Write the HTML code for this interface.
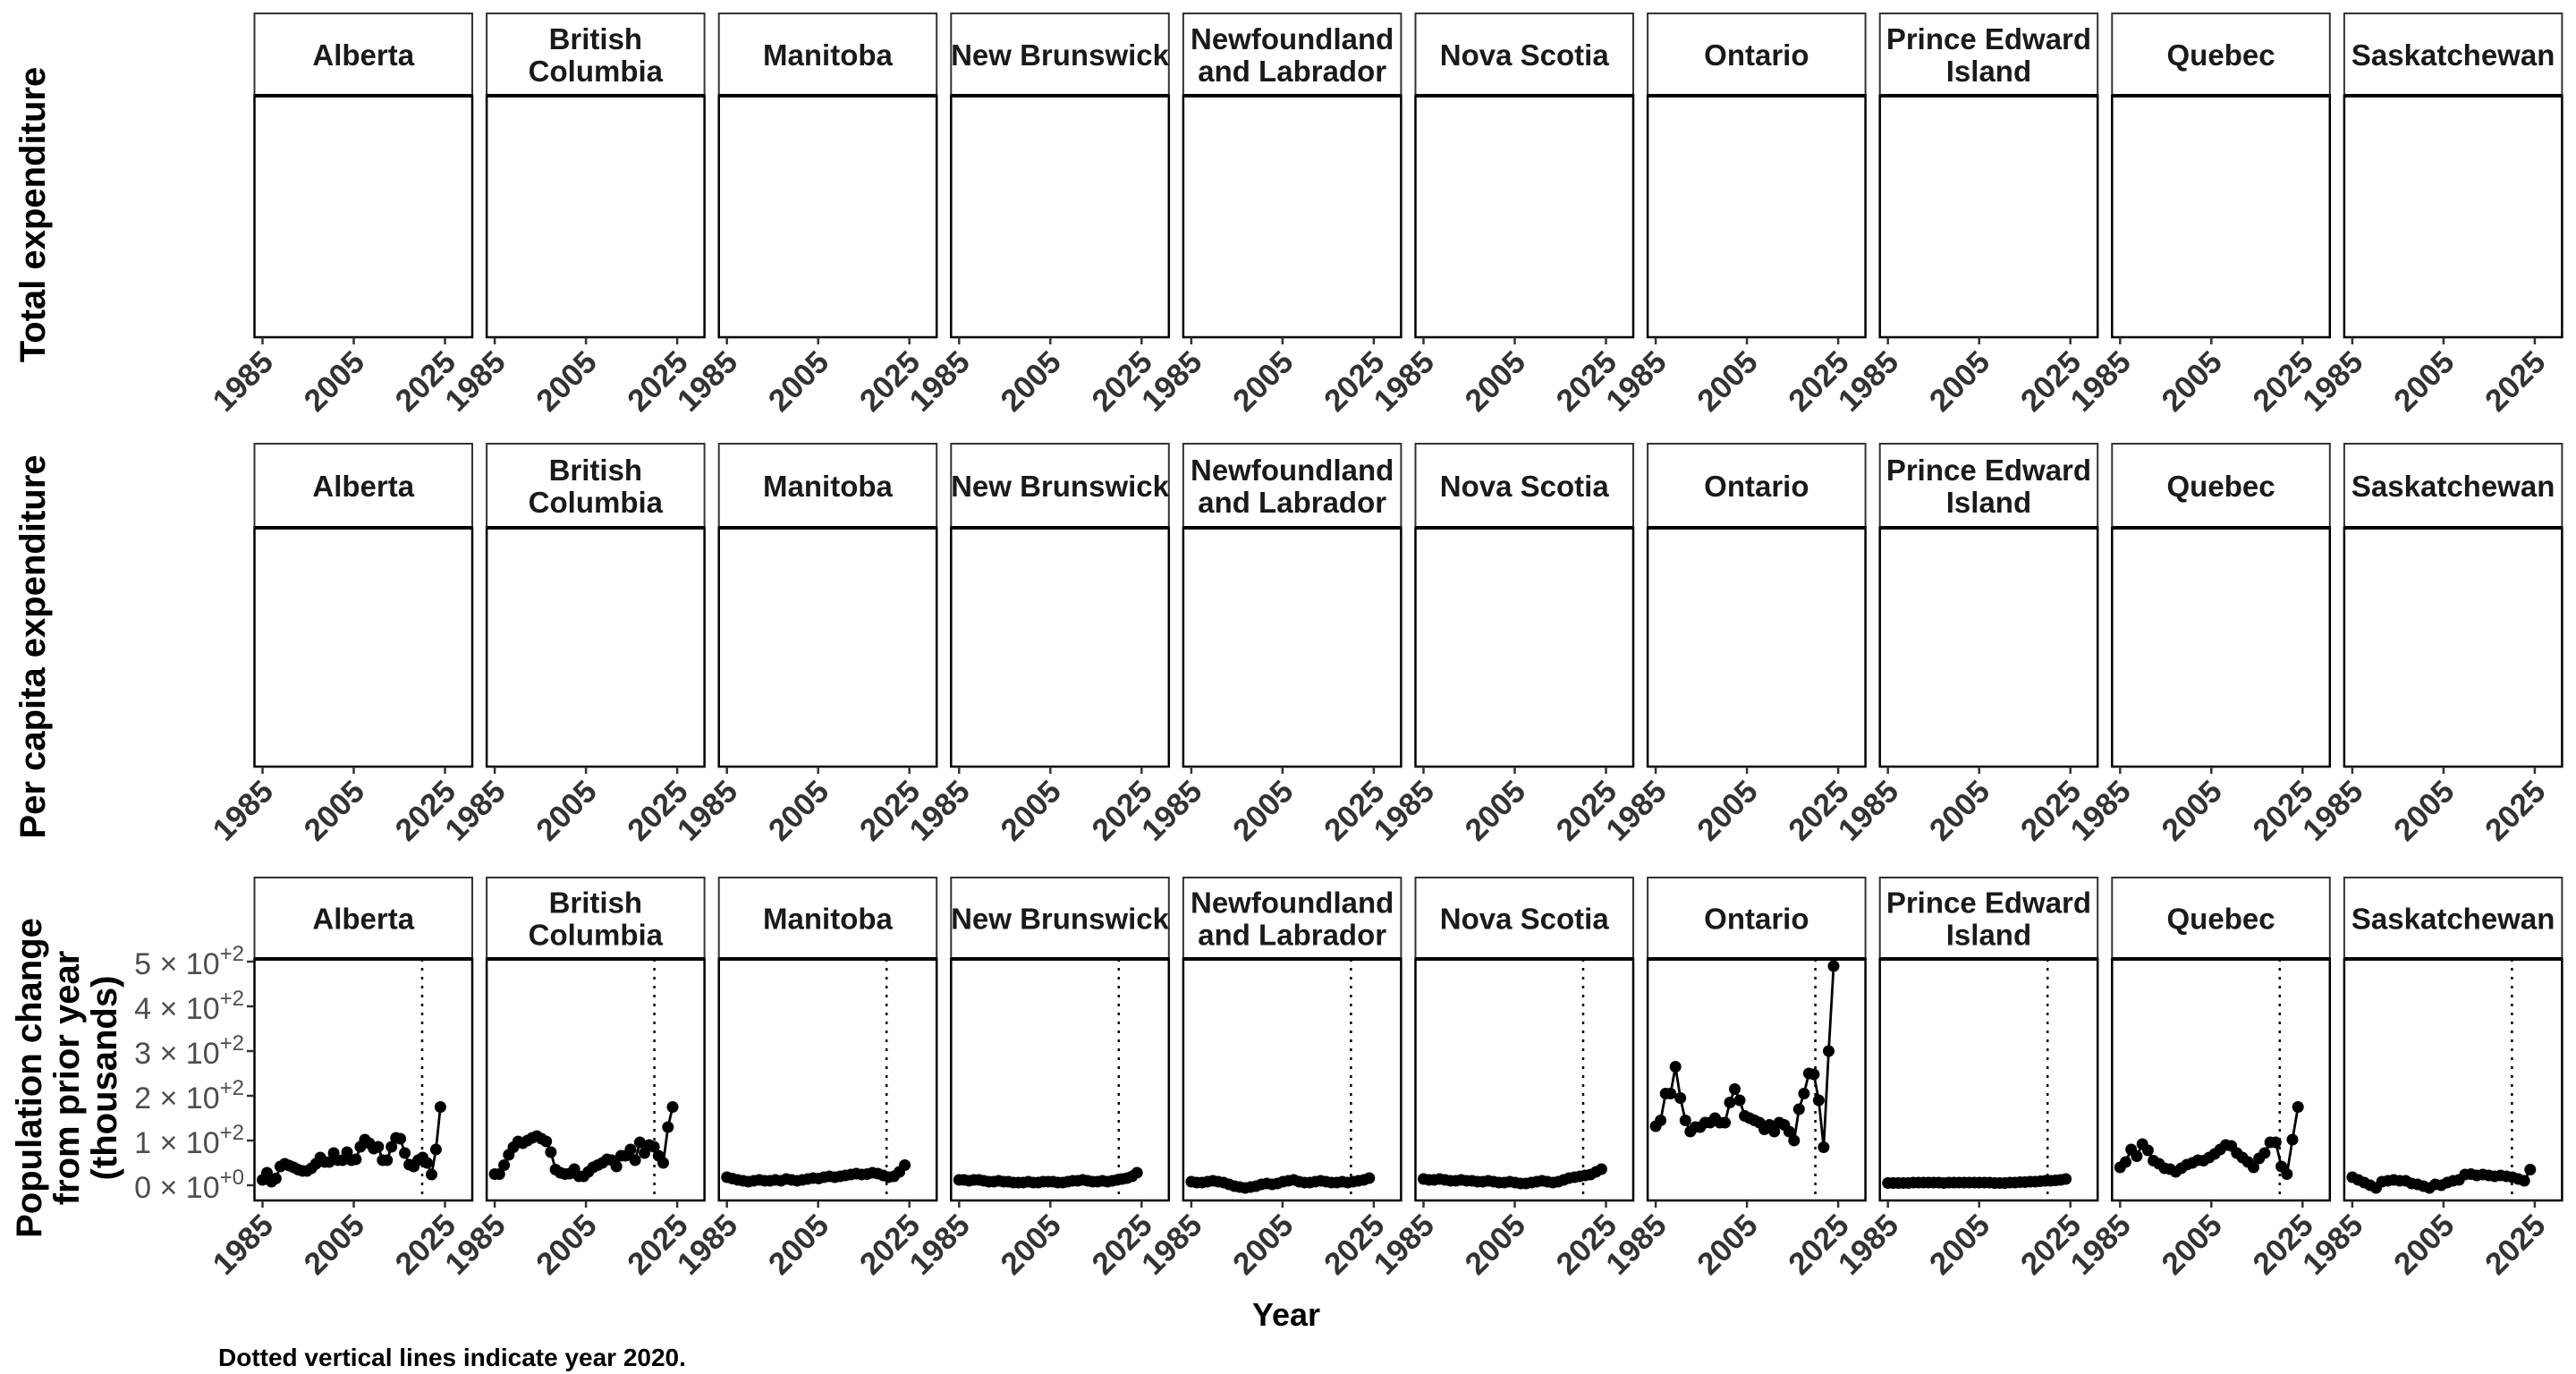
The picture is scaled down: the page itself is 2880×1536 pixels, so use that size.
<!DOCTYPE html>
<html><head><meta charset="utf-8"><style>
html,body{margin:0;padding:0;background:#fff;}
svg{display:block;font-family:"Liberation Sans",Arial,sans-serif;}
</style></head><body>
<svg id="s" width="2880" height="1536" viewBox="0 0 2880 1536" xmlns="http://www.w3.org/2000/svg">
<text x="1438" y="1482" font-size="36" font-weight="bold" text-anchor="middle" fill="#000">Year</text>
<text x="244" y="1527" font-size="28" font-weight="bold" fill="#000">Dotted vertical lines indicate year 2020.</text>
<text transform="translate(50,240) rotate(-90)" font-size="40" font-weight="bold" text-anchor="middle" fill="#000">Total expenditure</text>
<text transform="translate(50,723) rotate(-90)" font-size="40" font-weight="bold" text-anchor="middle" fill="#000">Per capita expenditure</text>
<text transform="translate(46,1205) rotate(-90)" font-size="40" font-weight="bold" text-anchor="middle" fill="#000">Population change</text>
<text transform="translate(88,1205) rotate(-90)" font-size="40" font-weight="bold" text-anchor="middle" fill="#000">from prior year</text>
<text transform="translate(130,1205) rotate(-90)" font-size="40" font-weight="bold" text-anchor="middle" fill="#000">(thousands)</text>
<g id="g"></g>
</svg>
<script>
var names=[["Alberta"],["British","Columbia"],["Manitoba"],["New Brunswick"],["Newfoundland","and Labrador"],["Nova Scotia"],["Ontario"],["Prince Edward","Island"],["Quebec"],["Saskatchewan"]];
var data=[
[12,28,8,15,42,48,44,40,35,32,32,38,48,62,52,52,72,56,56,74,56,58,86,102,94,82,86,56,56,86,106,104,72,46,42,56,62,50,24,80,175],
[25,25,45,68,85,98,94,100,106,110,104,98,74,35,28,25,26,36,20,20,30,40,45,50,58,56,42,66,66,80,56,96,72,90,86,66,50,130,175],
[18,15,12,10,8,10,12,10,10,12,10,14,12,10,12,14,16,15,18,20,18,20,22,24,26,24,25,28,26,22,18,20,30,45],
[12,12,10,12,12,10,8,8,10,8,8,6,6,6,8,6,6,8,8,8,6,6,8,10,10,12,10,8,8,10,8,10,12,14,16,20,28],
[8,6,6,8,10,8,6,2,-2,-4,-6,-4,-2,2,4,2,4,8,10,12,8,6,6,8,10,8,6,6,8,6,8,10,12,16],
[14,12,12,14,12,10,10,12,10,10,8,8,10,8,6,6,8,6,4,4,6,8,10,8,6,8,12,16,18,20,22,24,30,36],
[132,145,205,205,265,195,145,120,130,130,140,140,150,140,140,185,215,190,155,150,145,140,125,135,120,140,135,120,100,170,205,250,248,190,85,300,490],
[5,5,5,5,5,6,6,6,6,6,6,5,6,6,6,6,6,6,6,6,6,5,5,5,6,6,7,7,8,8,9,10,10,11,12,14],
[40,52,80,65,92,78,55,48,38,36,30,38,46,50,56,55,62,70,80,90,88,72,62,52,40,60,72,96,96,42,25,102,175],
[18,12,6,0,-6,8,10,12,10,10,4,2,-2,-6,2,0,6,10,12,24,25,22,24,22,20,22,20,18,14,10,35]];
var step=259.6,L0=284.5,W=243.5;
var rows=[[15,107,377],[496,590,857],[981,1072,1342]];
var h="";
function X(l,yr){return l+9+(yr-1985)*5.1;}
for(var r=0;r<3;r++){
 var st=rows[r][0],sb=rows[r][1],pb=rows[r][2];
 for(var i=0;i<10;i++){
  var l=L0+i*step;
  h+='<rect x="'+l+'" y="'+st+'" width="'+W+'" height="'+(sb-st)+'" fill="#fff" stroke="#333" stroke-width="2"/>';
  var n=names[i],cx=l+W/2,cy=(st+sb)/2;
  if(n.length==1)h+='<text x="'+cx+'" y="'+(cy+12)+'" font-size="33" font-weight="bold" text-anchor="middle" fill="#1a1a1a">'+n[0]+'</text>';
  else{h+='<text x="'+cx+'" y="'+(cy-6)+'" font-size="33" font-weight="bold" text-anchor="middle" fill="#1a1a1a">'+n[0]+'</text>';
   h+='<text x="'+cx+'" y="'+(cy+30)+'" font-size="33" font-weight="bold" text-anchor="middle" fill="#1a1a1a">'+n[1]+'</text>';}
  h+='<rect x="'+l+'" y="'+sb+'" width="'+W+'" height="'+(pb-sb)+'" fill="none" stroke="#000" stroke-width="2.5"/>';
  h+='<line x1="'+l+'" x2="'+(l+W)+'" y1="'+sb+'" y2="'+sb+'" stroke="#000" stroke-width="4"/>';
  [1985,2005,2025].forEach(function(y){var x=X(l,y);
   h+='<line x1="'+x+'" x2="'+x+'" y1="'+pb+'" y2="'+(pb+8)+'" stroke="#333" stroke-width="2.5"/>';
   h+='<text transform="translate('+(x+14)+','+(pb+30)+') rotate(-45)" font-size="35" font-weight="bold" text-anchor="end" fill="#333">'+y+'</text>';});
  if(r==2){
   var xd=X(l,2020);
   h+='<line x1="'+xd+'" x2="'+xd+'" y1="'+sb+'" y2="'+pb+'" stroke="#000" stroke-width="2.5" stroke-dasharray="3,7"/>';
   var d=data[i],pts=[];
   for(var k=0;k<d.length;k++){var yr=1985+k*39/(d.length-1);pts.push([X(l,yr).toFixed(1),(1325-d[k]*0.5).toFixed(1)]);}
   h+='<polyline fill="none" stroke="#000" stroke-width="2.8" points="'+pts.map(function(p){return p.join(",")}).join(" ")+'"/>';
   pts.forEach(function(p){h+='<circle cx="'+p[0]+'" cy="'+p[1]+'" r="6.5" fill="#000"/>';});
  }
 }
}
for(var k=0;k<=5;k++){var y=1325-k*50;
 h+='<line x1="276" x2="284" y1="'+y+'" y2="'+y+'" stroke="#333" stroke-width="2.5"/>';
 h+='<text x="273" y="'+(y+14)+'" font-size="34" text-anchor="end" fill="#4d4d4d">'+k+' \u00d7 10<tspan dy="-15" font-size="24">'+(k==0?'+0':'+2')+'</tspan></text>';}
document.getElementById("g").innerHTML=h;
</script>
</body></html>
